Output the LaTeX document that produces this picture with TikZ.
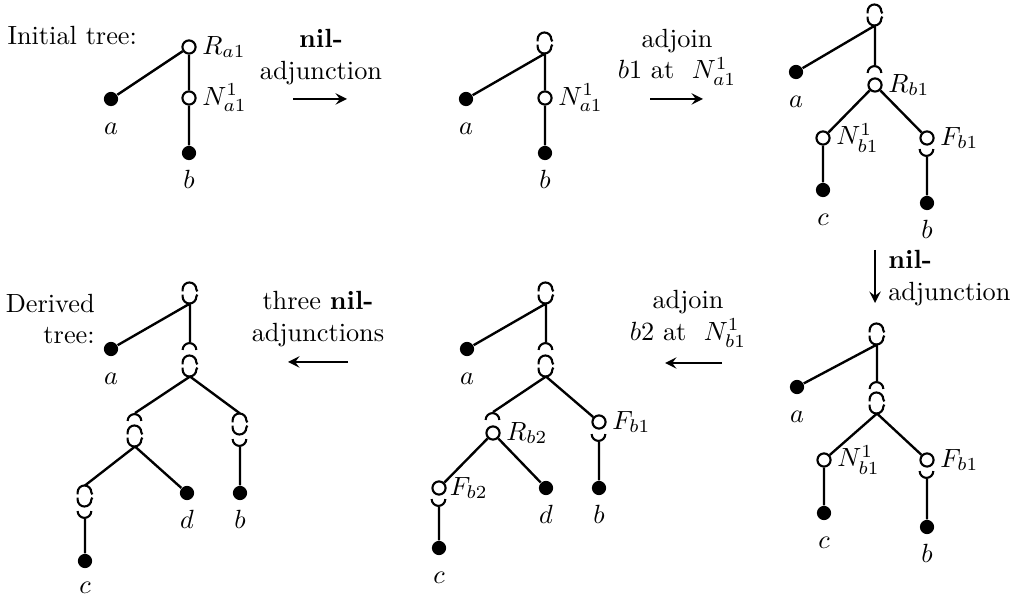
\documentclass[tikz,border=0pt]{standalone}
\usepackage{amsmath}
\usetikzlibrary{positioning, arrows}

\tikzset{
  open/.style={circle, draw, fill=white, line width=0.8pt, inner sep=0pt, minimum size=5pt},
  leaf/.style={circle, fill, inner sep=0pt, minimum size=5.4pt},
  split/.style={rectangle, inner sep=0pt, minimum width=5.2pt, minimum height=7.6pt},
  hood/.style={rectangle, inner sep=0pt, minimum width=5.2pt, minimum height=2.6pt},
  bowl/.style={hood},
  branch/.style={line width=0.9pt},
  lbl/.style={inner sep=1pt, text height=6.9pt, text depth=0pt},
  side/.style={inner sep=1pt},
  op/.style={align=center}
}

\begin{document}
\begin{tikzpicture}[x=0.38pt, y=-0.38pt, >=stealth]
  \useasboundingbox (0,0) rectangle (1020,600);

  % initial tree
  \node[anchor=base west, inner sep=0pt] (init) at (7,45) {Initial tree:};
  \node[open] (R1) at (189,47) {};
  \node[open] (N1) at (189,98) {};
  \node[leaf] (a1) at (111,99) {};
  \node[leaf] (b1) at (189,153) {};
  \node[side, right=1pt of R1] (lR1) {$R_{a1}$};
  \node[side, right=1pt of N1] (lN1) {$N^1_{a1}$};
  \node[lbl, below=2.4pt of a1] (la1) {$a$};
  \node[lbl, below=2.4pt of b1] (lb1) {$b$};
  \draw[branch] (R1) -- (a1) (R1) -- (N1) (N1) -- (b1);

  \node[op] (op1) at (321,57) {\textbf{nil-}\\adjunction};
  \coordinate (s1) at (293,99);
  \coordinate (e1) at (347,99);
  \draw[branch,->] (s1) -- (e1);

  % after nil-adjunction
  \node[split] (T2) at (545,43) {};
  \node[open] (N2) at (545,98) {};
  \node[leaf] (a2) at (466,99) {};
  \node[leaf] (b2) at (545,153) {};
  \node[side, right=1pt of N2] (lN2) {$N^1_{a1}$};
  \node[lbl, below=2.4pt of a2] (la2) {$a$};
  \node[lbl, below=2.4pt of b2] (lb2) {$b$};
  \draw[branch] (T2.south) -- (a2) (T2.south) -- (N2) (N2) -- (b2);

  \node[op] (op2) at (677,57) {adjoin\\$b1$ at~ $N^1_{a1}$};
  \coordinate (s2) at (650,99);
  \coordinate (e2) at (703,99);
  \draw[branch,->] (s2) -- (e2);

  % b1 adjoined
  \node[split] (T3) at (875,15) {};
  \node[hood] (k3) at (875,69) {};
  \node[open] (R3) at (875,85) {};
  \node[open] (N3) at (823,138) {};
  \node[open] (F3) at (927,138) {};
  \node[bowl] (u3) at (927,153) {};
  \node[leaf] (a3) at (796,72) {};
  \node[leaf] (c3) at (823,190) {};
  \node[leaf] (b3) at (927,203) {};
  \node[side, right=1pt of R3] (lR3) {$R_{b1}$};
  \node[side, right=1pt of N3] (lN3) {$N^1_{b1}$};
  \node[side, right=1pt of F3] (lF3) {$F_{b1}$};
  \node[lbl, below=2.4pt of a3] (la3) {$a$};
  \node[lbl, below=2.4pt of c3] (lc3) {$c$};
  \node[lbl, below=2.4pt of b3] (lb3) {$b$};
  \draw[branch] (T3.south) -- (a3) (T3.south) -- (k3.north) (R3) -- (N3) (R3) -- (F3)
    (N3) -- (c3) (u3.south) -- (b3);

  \coordinate (s3) at (875,250);
  \coordinate (e3) at (875,303);
  \draw[branch,->] (s3) -- (e3);
  \node[align=left, anchor=west] (op3) at (879,278) {\textbf{nil-}\\adjunction};

  % second nil-adjunction
  \node[split] (T4) at (877,334) {};
  \node[hood] (k4) at (877,385) {};
  \node[split] (S4) at (877,403) {};
  \node[open] (N4) at (824,460) {};
  \node[open] (F4) at (927,460) {};
  \node[bowl] (u4) at (927,475) {};
  \node[leaf] (a4) at (797,387) {};
  \node[leaf] (c4) at (824,513) {};
  \node[leaf] (b4) at (927,527) {};
  \node[side, right=1pt of N4] (lN4) {$N^1_{b1}$};
  \node[side, right=1pt of F4] (lF4) {$F_{b1}$};
  \node[lbl, below=2.4pt of a4] (la4) {$a$};
  \node[lbl, below=2.4pt of c4] (lc4) {$c$};
  \node[lbl, below=2.4pt of b4] (lb4) {$b$};
  \draw[branch] (T4.south) -- (a4) (T4.south) -- (k4.north) (S4.south) -- (N4)
    (S4.south) -- (F4) (N4) -- (c4) (u4.south) -- (b4);

  \node[op] (op4) at (688,319) {adjoin\\$b2$ at~ $N^1_{b1}$};
  \coordinate (s4) at (722,363);
  \coordinate (e4) at (665,363);
  \draw[branch,->] (s4) -- (e4);

  % b2 adjoined
  \node[split] (T5) at (546,293) {};
  \node[hood] (k5) at (546,346) {};
  \node[split] (S5) at (546,366) {};
  \node[hood] (m5) at (493,416) {};
  \node[open] (R5) at (493,433) {};
  \node[open] (F5) at (599,422) {};
  \node[bowl] (u5) at (599,438) {};
  \node[open] (G5) at (439,488) {};
  \node[bowl] (v5) at (439,503) {};
  \node[leaf] (a5) at (467,349) {};
  \node[leaf] (d5) at (546,488) {};
  \node[leaf] (b5) at (599,488) {};
  \node[leaf] (c5) at (439,548) {};
  \node[side, right=1pt of R5] (lR5) {$R_{b2}$};
  \node[side, right=1pt of F5] (lF5) {$F_{b1}$};
  \node[side, right=0pt of G5] (lG5) {$F_{b2}$};
  \node[lbl, below=2.4pt of a5] (la5) {$a$};
  \node[lbl, below=2.4pt of d5] (ld5) {$d$};
  \node[lbl, below=2.4pt of b5] (lb5) {$b$};
  \node[lbl, below=2.4pt of c5] (lc5) {$c$};
  \draw[branch] (T5.south) -- (a5) (T5.south) -- (k5.north) (S5.south) -- (m5.north)
    (S5.south) -- (F5) (R5) -- (G5) (R5) -- (d5) (u5.south) -- (b5) (v5.south) -- (c5);

  \node[op] (op5) at (318,319) {three \textbf{nil-}\\adjunctions};
  \coordinate (s5) at (348,362);
  \coordinate (e5) at (288,362);
  \draw[branch,->] (s5) -- (e5);

  % derived tree
  \node[align=right, anchor=east] (der) at (104,319) {Derived\\tree:};
  \node[split] (T6) at (190,293) {};
  \node[hood] (k6) at (190,346) {};
  \node[split] (S6) at (190,366) {};
  \node[hood] (m6) at (135,417) {};
  \node[split] (P6) at (135,436) {};
  \node[split] (Q6) at (240,424) {};
  \node[bowl] (u6) at (240,443) {};
  \node[split] (L6) at (85,496) {};
  \node[bowl] (v6) at (85,515) {};
  \node[leaf] (a6) at (111,349) {};
  \node[leaf] (d6) at (187,493) {};
  \node[leaf] (b6) at (240,493) {};
  \node[leaf] (c6) at (85,561) {};
  \node[lbl, below=2.4pt of a6] (la6) {$a$};
  \node[lbl, below=2.4pt of d6] (ld6) {$d$};
  \node[lbl, below=2.4pt of b6] (lb6) {$b$};
  \node[lbl, below=1.2pt of c6] (lc6) {$c$};
  \draw[branch] (T6.south) -- (a6) (T6.south) -- (k6.north) (S6.south) -- (m6.north)
    (S6.south) -- (Q6.north) (P6.south) -- (L6.north) (P6.south) -- (d6)
    (u6.south) -- (b6) (v6.south) -- (c6);

  % the split, hood and bowl glyphs
  \foreach \n in {T2,T3,T4,S4,T5,S5,T6,S6,P6,Q6,L6} {
    \draw[line width=0.8pt] ([yshift=0.6pt]\n.west) -- ([yshift=-2.6pt]\n.north west)
      arc[start angle=180,end angle=0,radius=2.6pt] -- ([yshift=0.6pt]\n.east);
    \draw[line width=0.8pt] ([yshift=-0.6pt]\n.west) -- ([yshift=2.6pt]\n.south west)
      arc[start angle=180,end angle=360,radius=2.6pt] -- ([yshift=-0.6pt]\n.east);
  }
  \foreach \n in {k3,k4,k5,m5,k6,m6}
    \draw[line width=0.8pt] (\n.south west) arc[start angle=180,end angle=0,radius=2.6pt];
  \foreach \n in {u3,u4,u5,v5,u6,v6}
    \draw[line width=0.8pt] (\n.north west) arc[start angle=180,end angle=360,radius=2.6pt];
\end{tikzpicture}
\end{document}
